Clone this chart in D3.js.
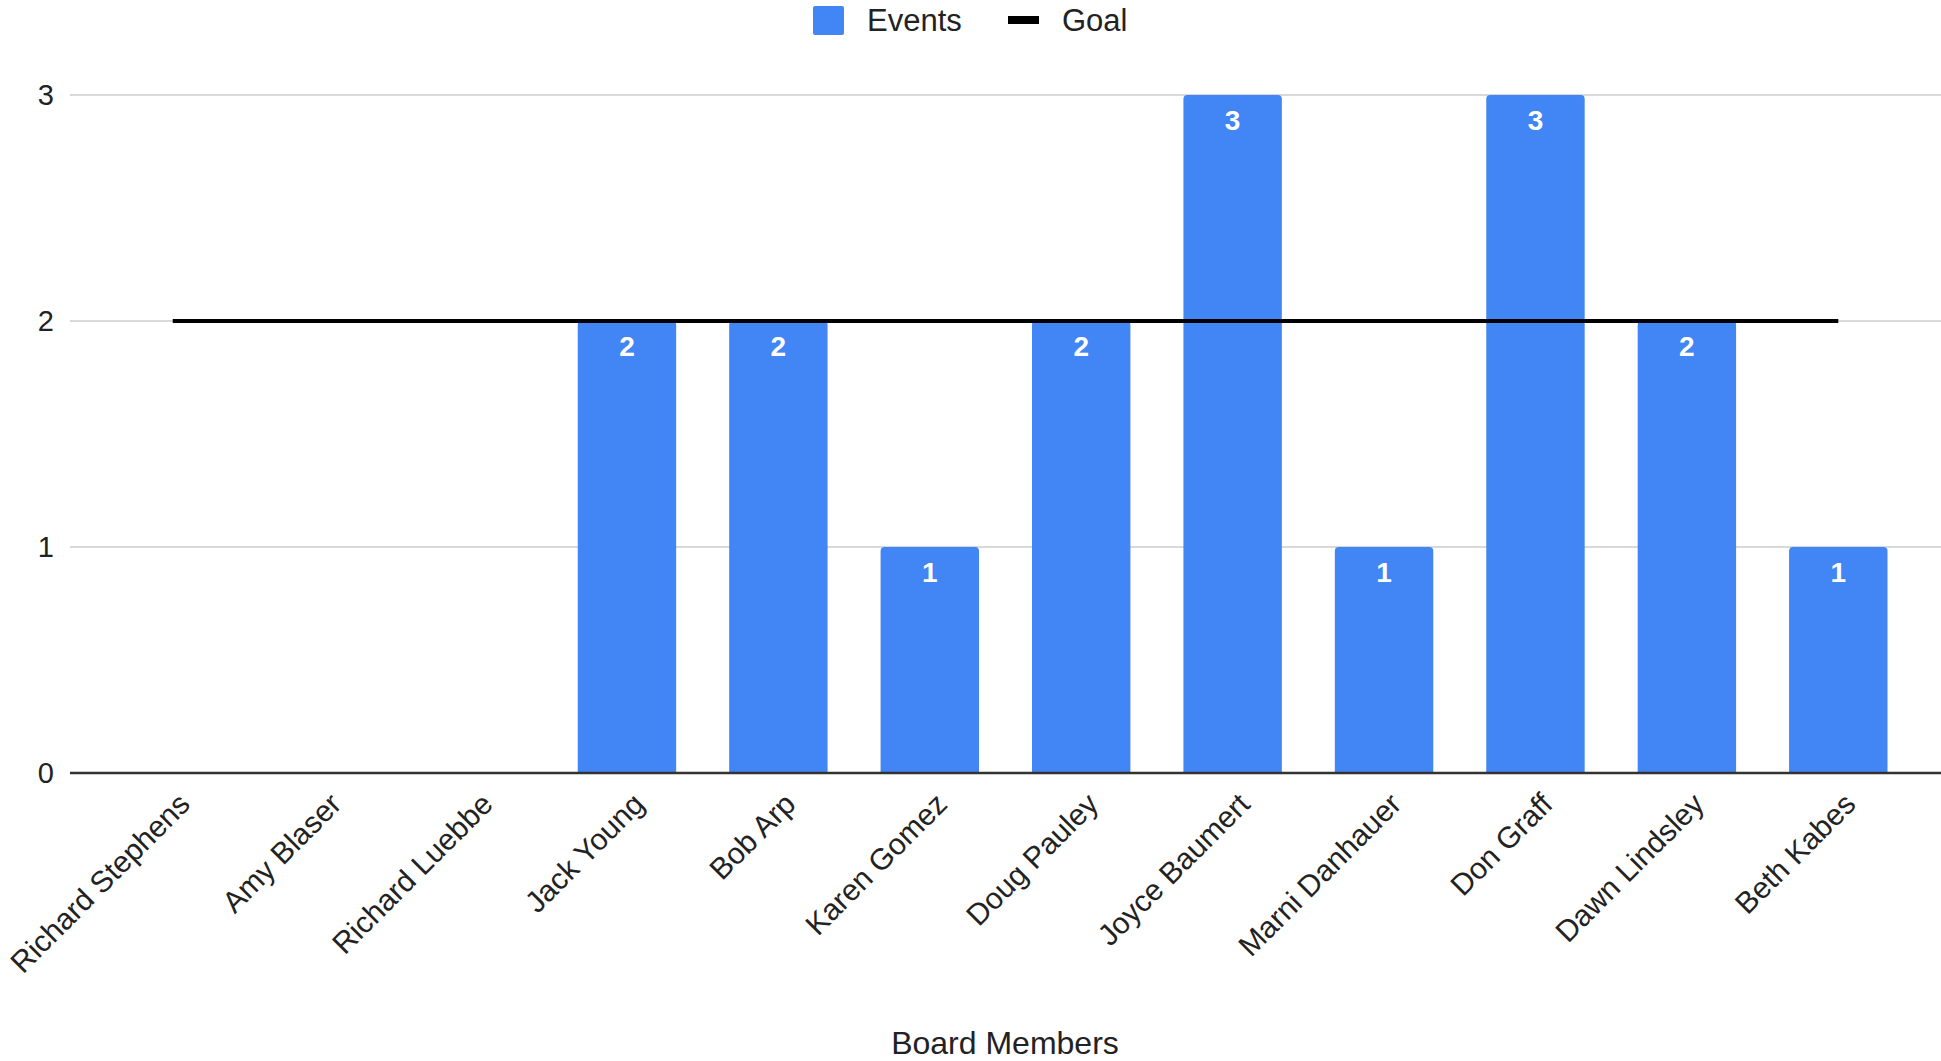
<!DOCTYPE html>
<html>
<head>
<meta charset="utf-8">
<script src="https://cdn.jsdelivr.net/npm/d3@7"></script>
<style>
  html, body { margin: 0; padding: 0; background: #fff; }
  svg { display: block; font-family: "Liberation Sans", Arial, sans-serif; }
</style>
</head>
<body>
<svg id="chart" width="1941" height="1061"></svg>
<script>
const categories = ["Richard Stephens", "Amy Blaser", "Richard Luebbe", "Jack Young", "Bob Arp",
  "Karen Gomez", "Doug Pauley", "Joyce Baumert", "Marni Danhauer", "Don Graff", "Dawn Lindsley", "Beth Kabes"];
const events = [0, 0, 0, 2, 2, 1, 2, 3, 1, 3, 2, 1];
const goal = [2, 2, 2, 2, 2, 2, 2, 2, 2, 2, 2, 2];
const yTicks = [0, 1, 2, 3];
const seriesNames = ["Events", "Goal"];
const xTitle = "Board Members";

const W = 1941, H = 1061;
const svg = d3.select("#chart");
const gridLeft = 70, gridRight = 1941;
const x = d3.scaleBand().domain(categories).range([97, 1914]).paddingInner(0.35).paddingOuter(0.175);
const y = d3.scaleLinear().domain([0, 3]).range([773, 95]);
const blue = "#4285f4";

// gridlines
svg.append("g").selectAll("line").data(yTicks.filter(t => t !== 0)).join("line")
  .attr("x1", gridLeft).attr("x2", gridRight)
  .attr("y1", d => y(d)).attr("y2", d => y(d))
  .attr("stroke", "#cccccc").attr("stroke-width", 1.5);

// y axis labels
const yAxis = d3.axisLeft(y).tickValues(yTicks).tickSize(0).tickPadding(0).tickFormat(d3.format("d"));
const yg = svg.append("g").attr("transform", `translate(54,0)`).call(yAxis);
yg.select(".domain").remove();
yg.selectAll("text").attr("font-size", 29).attr("fill", "#222").attr("font-family", "Liberation Sans, Arial, sans-serif");

// bars
function barPath(x0, y0, w, h, r) {
  if (h <= 0) return "";
  r = Math.min(r, h, w / 2);
  return `M${x0},${y0 + h} V${y0 + r} Q${x0},${y0} ${x0 + r},${y0} H${x0 + w - r} Q${x0 + w},${y0} ${x0 + w},${y0 + r} V${y0 + h} Z`;
}
svg.append("g").selectAll("path").data(categories.map((c, i) => ({ c, v: events[i] }))).join("path")
  .attr("d", d => barPath(x(d.c), y(d.v), x.bandwidth(), y(0) - y(d.v), 4))
  .attr("fill", blue);

// value labels
svg.append("g").selectAll("text").data(categories.map((c, i) => ({ c, v: events[i] })).filter(d => d.v > 0)).join("text")
  .attr("x", d => x(d.c) + x.bandwidth() / 2)
  .attr("y", d => y(d.v) + 35)
  .attr("text-anchor", "middle")
  .attr("font-size", 28).attr("font-weight", "bold").attr("fill", "#ffffff")
  .text(d => d.v);

// zero baseline
svg.append("line").attr("x1", gridLeft).attr("x2", gridRight).attr("y1", y(0)).attr("y2", y(0))
  .attr("stroke", "#333").attr("stroke-width", 2.5);

// goal line
const line = d3.line().x((d, i) => x(categories[i]) + x.bandwidth() / 2).y(d => y(d));
svg.append("path").datum(goal).attr("d", line).attr("fill", "none")
  .attr("stroke", "#000").attr("stroke-width", 4);

// x labels
svg.append("g").selectAll("text").data(categories).join("text")
  .attr("transform", d => `translate(${x(d) + x.bandwidth() / 2 + 19},${y(0) + 33}) rotate(-45)`)
  .attr("text-anchor", "end")
  .attr("font-size", 30).attr("fill", "#222")
  .text(d => d);

// x title
svg.append("text").attr("x", 1005).attr("y", 1054).attr("text-anchor", "middle")
  .attr("font-size", 32).attr("fill", "#222").text(xTitle);

// legend
const lg = svg.append("g");
lg.append("rect").attr("x", 813).attr("y", 6).attr("width", 31).attr("height", 29).attr("rx", 2).attr("fill", blue);
lg.append("text").attr("x", 867).attr("y", 31).attr("font-size", 31).attr("fill", "#222").text(seriesNames[0]);
lg.append("line").attr("x1", 1008).attr("x2", 1039).attr("y1", 20).attr("y2", 20).attr("stroke", "#000").attr("stroke-width", 8);
lg.append("text").attr("x", 1062).attr("y", 31).attr("font-size", 31).attr("fill", "#222").text(seriesNames[1]);
</script>
</body>
</html>
